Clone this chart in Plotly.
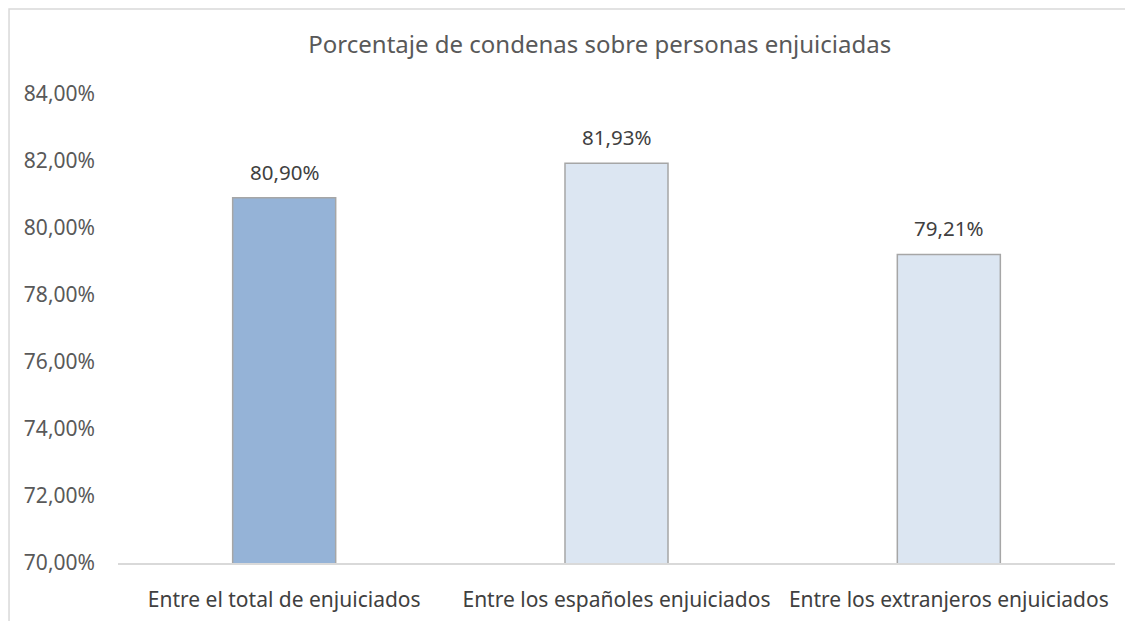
import plotly.graph_objects as go

categories = ["Entre el total de enjuiciados", "Entre los españoles enjuiciados", "Entre los extranjeros enjuiciados"]
values = [0.8090, 0.8193, 0.7921]
colors = ["#95B3D7", "#DCE6F2", "#DCE6F2"]
y_ticks = [0.70, 0.72, 0.74, 0.76, 0.78, 0.80, 0.82, 0.84]

font_family = "'Noto Sans', 'Open Sans', sans-serif"
text_color = "#595959"

fig = go.Figure(go.Bar(
    x=categories,
    y=values,
    width=0.31,
    marker=dict(color=colors, line=dict(color="#A6A6A6", width=1.5)),
    hoverinfo="x+y",
))

for c, v in zip(categories, values):
    fig.add_annotation(
        x=c, y=v, xref="x", yref="y",
        text=f"{v * 100:.2f}%".replace(".", ","),
        showarrow=False, yanchor="bottom", yshift=10,
        font=dict(size=20.5, color="#404040", family=font_family),
    )

fig.update_layout(
    width=1125, height=613,
    separators=",.",
    paper_bgcolor="white", plot_bgcolor="white",
    margin=dict(l=110, r=18, t=86, b=58),
    title=dict(text="Porcentaje de condenas sobre personas enjuiciadas", x=0.526, xanchor="center",
               y=0.94, yanchor="middle",
               font=dict(size=24, color=text_color, family=font_family)),
    showlegend=False,
    font=dict(family=font_family, color=text_color),
    xaxis=dict(showgrid=False, showline=True, linecolor="#D9D9D9", linewidth=1.5, automargin=False,
               ticks="", ticklabelstandoff=17, tickfont=dict(size=21, color="#404040")),
    yaxis=dict(range=[0.70, 0.84], tickvals=y_ticks, tickformat=".2%", showgrid=False, automargin=False,
               showline=False, zeroline=False, ticks="", ticklabelstandoff=22,
               tickfont=dict(size=21, color="#595959")),
    shapes=[dict(type="rect", xref="paper", yref="paper", x0=-0.1093, x1=1.05, y0=-0.3, y1=1.181,
                 line=dict(color="#D9D9D9", width=1.5), fillcolor="rgba(0,0,0,0)", layer="below")],
)

fig.write_html("out.html")
